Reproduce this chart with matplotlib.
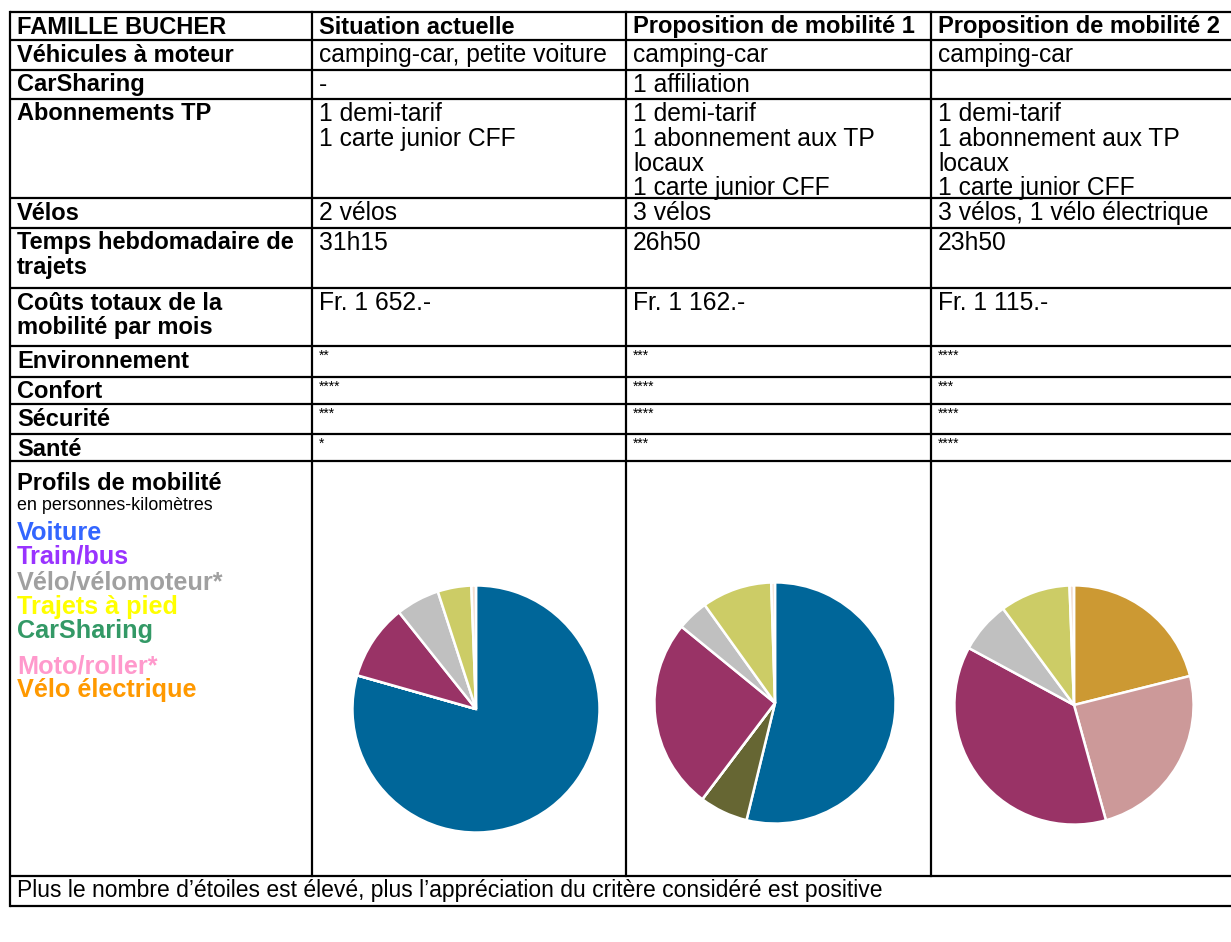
import matplotlib.pyplot as plt
from matplotlib.font_manager import FontProperties
from matplotlib.textpath import TextPath

# Comparaison des profils de mobilité - famille Bucher
W, H = 1231, 942

plt.rcParams['font.family'] = ['Liberation Sans', 'DejaVu Sans']

entetes = ['FAMILLE BUCHER', 'Situation actuelle', 'Proposition de mobilité 1', 'Proposition de mobilité 2']

criteres = ['Véhicules à moteur', 'CarSharing', 'Abonnements TP', 'Vélos',
            'Temps hebdomadaire de\ntrajets', 'Coûts totaux de la\nmobilité par mois']
situation = ['camping-car, petite voiture', '-', '1 demi-tarif\n1 carte junior CFF',
             '2 vélos', '31h15', 'Fr. 1 652.-']
proposition1 = ['camping-car', '1 affiliation',
                '1 demi-tarif\n1 abonnement aux TP\nlocaux\n1 carte junior CFF',
                '3 vélos', '26h50', 'Fr. 1 162.-']
proposition2 = ['camping-car', '',
                '1 demi-tarif\n1 abonnement aux TP\nlocaux\n1 carte junior CFF',
                '3 vélos, 1 vélo électrique', '23h50', 'Fr. 1 115.-']

criteres_etoiles = ['Environnement', 'Confort', 'Sécurité', 'Santé']
etoiles_situation = [2, 4, 3, 1]
etoiles_prop1 = [3, 4, 4, 3]
etoiles_prop2 = [4, 3, 4, 4]

modes = ['Voiture', 'CarSharing', 'Vélo électrique', 'Moto/roller', 'Train/bus',
         'Vélo/vélomoteur', 'Trajets à pied', 'Autres']
pk_situation = [79.4, 0, 0, 0, 9.9, 5.7, 4.4, 0.6]
pk_prop1 = [53.8, 6.5, 0, 0, 25.6, 4.2, 9.4, 0.5]
pk_prop2 = [0, 0, 21.1, 24.6, 37.2, 7.0, 9.5, 0.6]
couleurs_parts = ['#006699', '#666633', '#CC9933', '#CC9999', '#993366',
                  '#C0C0C0', '#CCCC66', '#F2DDD0']

legende = ['Voiture', 'Train/bus', 'Vélo/vélomoteur*', 'Trajets à pied', 'CarSharing',
           'Moto/roller*', 'Vélo électrique']
couleurs_legende = ['#3366FF', '#9933FF', '#A0A0A0', '#FFFF00', '#339966', '#FF99CC', '#FF9900']

note = 'Plus le nombre d’étoiles est élevé, plus l’appréciation du critère considéré est positive'

# mise en page (pixels)
cols_x = [10, 312, 626, 931, 1240]
lignes_y = [12, 40, 70, 99, 198, 228, 288, 346, 377, 404, 434, 461, 876, 906]


def taille_pour(texte, largeur_px, poids='normal'):
    fp = FontProperties(family=plt.rcParams['font.family'], weight=poids)
    w = TextPath((0, 0), texte, size=100, prop=fp).get_extents().width
    return largeur_px / (w / 100 * 100 / 72)


fs = taille_pour('camping-car, petite voiture', 286)
fs_b = taille_pour('Proposition de mobilité 1', 280, 'bold')
fs_note = taille_pour(note, 862)
fs_leg = taille_pour('Vélo/vélomoteur*', 206, 'bold')
fs_pk = taille_pour('en personnes-kilomètres', 194)

fig = plt.figure(figsize=(W / 100, H / 100), dpi=100)
ax = fig.add_axes([0, 0, 1, 1])
ax.set_xlim(0, W)
ax.set_ylim(H, 0)
ax.axis('off')

lw = 1.6
for y in lignes_y:
    ax.plot([cols_x[0], W + 5], [y, y], color='black', lw=lw, solid_capstyle='butt')
ax.plot([cols_x[0], cols_x[0]], [lignes_y[0], lignes_y[-1]], color='black', lw=lw)
for x in cols_x[1:4]:
    ax.plot([x, x], [lignes_y[0], lignes_y[-2]], color='black', lw=lw)


def cellule(col, row, texte, bold=False):
    y0 = lignes_y[row] + 15
    for i, ligne in enumerate(texte.split('\n')):
        ax.text(cols_x[col] + 7, y0 + i * 24.8, ligne, fontsize=fs_b if bold else fs,
                va='center', ha='left', fontweight='bold' if bold else 'normal', color='black')


for j, t in enumerate(entetes):
    cellule(j, 0, t, bold=True)

for i, c in enumerate(criteres):
    cellule(0, i + 1, c, bold=True)
    cellule(1, i + 1, situation[i])
    cellule(2, i + 1, proposition1[i])
    cellule(3, i + 1, proposition2[i])

for i, c in enumerate(criteres_etoiles):
    r = len(criteres) + 1 + i
    cellule(0, r, c, bold=True)
    for j, n in enumerate([etoiles_situation[i], etoiles_prop1[i], etoiles_prop2[i]]):
        ax.text(cols_x[j + 1] + 7, lignes_y[r] + 3, '*' * n, fontsize=10, va='top', ha='left')

# colonne légende des profils
r_prof = len(criteres) + len(criteres_etoiles) + 1
y = lignes_y[r_prof]
ax.text(17, y + 23, 'Profils de mobilité', fontsize=fs_b, fontweight='bold', va='center')
ax.text(17, y + 44, 'en personnes-kilomètres', fontsize=fs_pk, va='center')
pos_leg = [72, 96, 122, 146, 170, 205, 229]
for t, c, dy in zip(legende, couleurs_legende, pos_leg):
    ax.text(17, y + dy, t, fontsize=fs_leg, fontweight='bold', color=c, va='center')

ax.text(17, lignes_y[-2] + 15, note, fontsize=fs_note, va='center')

# camemberts
centres = [(476, 709, 126), (775, 703, 123), (1074, 705, 122)]
for vals, (cx, cy, rr) in zip([pk_situation, pk_prop1, pk_prop2], centres):
    pa = fig.add_axes([(cx - rr) / W, 1 - (cy + rr) / H, 2 * rr / W, 2 * rr / H])
    pa.pie(vals, colors=couleurs_parts, startangle=90, counterclock=False, radius=1,
           wedgeprops=dict(edgecolor='white', linewidth=1.8))
    pa.set_xlim(-1.02, 1.02)
    pa.set_ylim(-1.02, 1.02)

fig.savefig('out.png', dpi=100)
